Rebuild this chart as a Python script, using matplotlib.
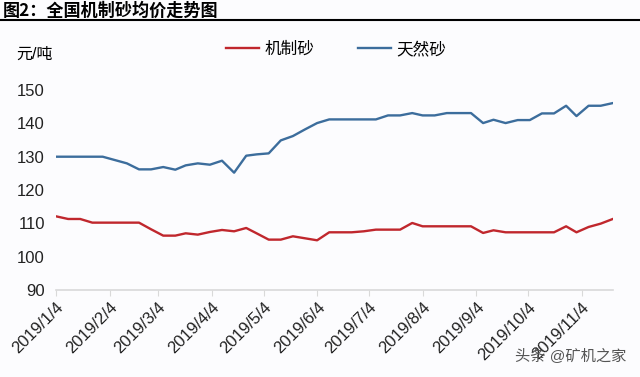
import matplotlib
matplotlib.use("Agg")
import matplotlib.pyplot as plt
import pandas as pd
from matplotlib.lines import Line2D

# --- данные ---
dates = [
    "2019-01-04", "2019-01-11", "2019-01-18", "2019-01-25", "2019-01-31",
    "2019-02-07", "2019-02-14", "2019-02-21", "2019-02-28", "2019-03-07",
    "2019-03-14", "2019-03-20", "2019-03-27", "2019-04-03", "2019-04-10",
    "2019-04-17", "2019-04-24", "2019-04-30", "2019-05-07", "2019-05-14",
    "2019-05-21", "2019-05-28", "2019-06-04", "2019-06-11", "2019-06-17",
    "2019-06-24", "2019-07-01", "2019-07-08", "2019-07-15", "2019-07-22",
    "2019-07-29", "2019-08-04", "2019-08-11", "2019-08-18", "2019-08-25",
    "2019-09-01", "2019-09-08", "2019-09-14", "2019-09-21", "2019-09-28",
    "2019-10-05", "2019-10-12", "2019-10-19", "2019-10-26", "2019-11-01",
    "2019-11-08", "2019-11-15", "2019-11-22",
]

# 机制砂
manufactured = [
    112.1, 111.3, 111.3, 110.2, 110.2, 110.2, 110.2, 110.2, 108.2, 106.3,
    106.3, 107.0, 106.6, 107.4, 108.0, 107.6, 108.6, 107.0, 105.1, 105.1,
    106.1, 105.5, 104.9, 107.3, 107.3, 107.3, 107.6, 108.1, 108.1, 108.1,
    110.1, 109.1, 109.1, 109.1, 109.1, 109.1, 107.1, 107.9, 107.3, 107.3,
    107.3, 107.3, 107.3, 109.1, 107.3, 108.9, 109.9, 111.3,
]

# 天然砂
natural = [
    130.0, 130.0, 130.0, 130.0, 130.0, 129.0, 128.0, 126.2, 126.2, 126.9,
    126.1, 127.4, 128.0, 127.6, 128.8, 125.2, 130.3, 130.7, 131.0, 134.9,
    136.2, 138.2, 140.1, 141.2, 141.2, 141.2, 141.2, 141.2, 142.4, 142.4,
    143.1, 142.4, 142.4, 143.1, 143.1, 143.1, 140.1, 141.1, 140.1, 141.0,
    141.0, 143.0, 143.0, 145.3, 142.2, 145.3, 145.3, 146.1,
]

tick_dates = ["2019-01-04", "2019-02-04", "2019-03-04", "2019-04-04",
              "2019-05-04", "2019-06-04", "2019-07-04", "2019-08-04",
              "2019-09-04", "2019-10-04", "2019-11-04"]
tick_labels = ["2019/1/4", "2019/2/4", "2019/3/4", "2019/4/4", "2019/5/4",
               "2019/6/4", "2019/7/4", "2019/8/4", "2019/9/4", "2019/10/4",
               "2019/11/4"]
y_ticks = [90, 100, 110, 120, 130, 140, 150]

plt.rcParams['font.family'] = ['Liberation Sans', 'Noto Sans CJK SC', 'DejaVu Sans']

x = pd.to_datetime(dates)

fig = plt.figure(figsize=(6.4, 3.77), dpi=100, facecolor='#fcfcfe')
ax = fig.add_axes([0.0875, 0.231, 0.870, 0.530])
ax.set_facecolor('#fcfcfe')

ax.plot(x, manufactured, color='#c0272d', lw=1.7, label='机制砂')
ax.plot(x, natural, color='#3c6d9c', lw=1.7, label='天然砂')

ax.set_xlim(x[0], x[-1])
ax.set_ylim(90, 150)
ax.set_yticks(y_ticks)
ax.set_yticklabels([str(v) for v in y_ticks])
ax.set_xticks(pd.to_datetime(tick_dates))
ax.set_xticklabels(tick_labels, rotation=45, ha='right', va='top',
                   rotation_mode='anchor')

for s in ['top', 'right', 'left']:
    ax.spines[s].set_visible(False)
ax.spines['bottom'].set_color('#d9d9d9')
ax.spines['bottom'].set_linewidth(1.2)
ax.tick_params(axis='y', length=0, pad=8, labelsize=12, labelcolor='#222222')
ax.tick_params(axis='x', length=4, color='#d9d9d9', pad=3, labelsize=12,
               labelcolor='#222222')

ax.legend(ncol=2, loc='center', bbox_to_anchor=(336 / 640, 1 - 49 / 377),
          bbox_transform=fig.transFigure, frameon=False, handlelength=2.0,
          columnspacing=2.6, handletextpad=0.3, fontsize=12)

# заголовок и подписи
fig.text(0.005, 1 - 11 / 377, '图2：全国机制砂均价走势图', fontsize=12.3,
         weight='bold', va='center', family=['Noto Sans CJK SC'])
fig.add_artist(Line2D([0, 1], [1 - 20 / 377] * 2, color='black', lw=1.5))
fig.text(16 / 640, 1 - 54 / 377, '元/吨', fontsize=11.5, va='center')
fig.text(0.978, 1 - 356 / 377, '头条 @矿机之家', ha='right', va='center',
         color='#555555', fontsize=11)

fig.savefig('out.png', dpi=100, facecolor=fig.get_facecolor())
